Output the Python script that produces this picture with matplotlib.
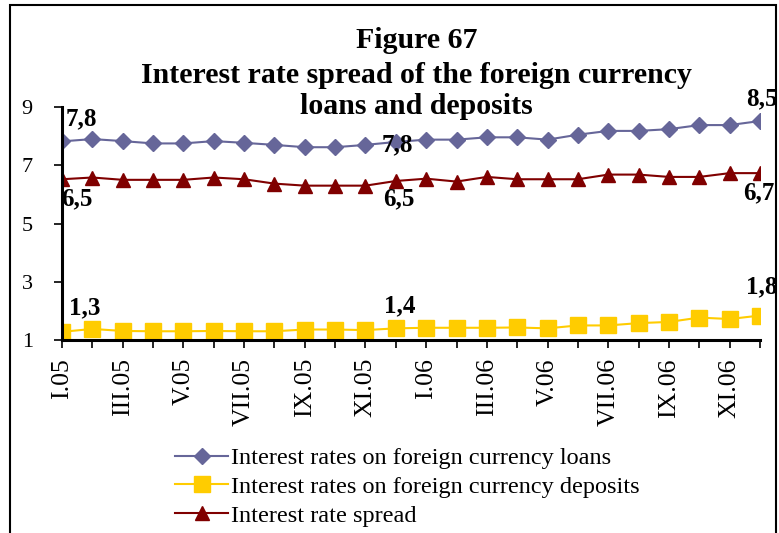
import matplotlib.pyplot as plt
from matplotlib.patches import Rectangle

plt.rcParams['font.family'] = ['Liberation Serif', 'DejaVu Serif']

# Monthly data, January 2005 - December 2006
months = ['I.05', 'II.05', 'III.05', 'IV.05', 'V.05', 'VI.05', 'VII.05', 'VIII.05',
          'IX.05', 'X.05', 'XI.05', 'XII.05', 'I.06', 'II.06', 'III.06', 'IV.06',
          'V.06', 'VI.06', 'VII.06', 'VIII.06', 'IX.06', 'X.06', 'XI.06', 'XII.06']
loans = [7.82, 7.90, 7.83, 7.75, 7.75, 7.83, 7.77, 7.70, 7.62, 7.62, 7.70, 7.80,
         7.88, 7.88, 7.96, 7.96, 7.88, 8.05, 8.18, 8.18, 8.24, 8.38, 8.38, 8.52]
deposits = [1.28, 1.38, 1.31, 1.30, 1.30, 1.31, 1.30, 1.30, 1.36, 1.36, 1.34, 1.40,
            1.42, 1.42, 1.42, 1.43, 1.40, 1.50, 1.50, 1.58, 1.62, 1.77, 1.72, 1.84]
spread = [6.52, 6.58, 6.50, 6.50, 6.50, 6.58, 6.52, 6.37, 6.30, 6.30, 6.30, 6.46,
          6.54, 6.44, 6.60, 6.52, 6.52, 6.52, 6.68, 6.68, 6.60, 6.60, 6.73, 6.73]
labelled = [0, 11, 23]

fig = plt.figure(figsize=(7.79, 5.33), dpi=100)
ax = fig.add_axes([0.0796, 0.3621, 0.896, 0.4371])

x = list(range(len(months)))
ax.plot(x, loans, color='#666699', marker='D', markersize=8.5, lw=1.5,
        label='Interest rates on foreign currency loans')
ax.plot(x, deposits, color='#FFCC00', marker='s', markersize=11, lw=1.5,
        label='Interest rates on foreign currency deposits')
ax.plot(x, spread, color='#800000', marker='^', markersize=10.5, lw=1.5,
        label='Interest rate spread')

ax.set_xlim(0, 23)
ax.set_ylim(1, 9)
ax.set_yticks([1, 3, 5, 7, 9])
ax.set_xticks(x)
ax.set_xticklabels([m if i % 2 == 0 else '' for i, m in enumerate(months)],
                   rotation=90, fontsize=18.5)
ax.tick_params(axis='y', labelsize=16, length=6, width=1.2, pad=15)
ax.tick_params(axis='x', length=6, width=1.2, pad=7)
for side in ['top', 'right']:
    ax.spines[side].set_visible(False)
for side in ['left', 'bottom']:
    ax.spines[side].set_linewidth(2.2)

# value labels on the first, December 2005 and last points
offsets = {
    'loans': [(14, 16), (1, -2), (1, 16)],
    'spread': [(11, -14), (2, -13), (-1, -14)],
    'deposits': [(16, 17), (3, 16), (1, 21)],
}
for name, vals in [('loans', loans), ('spread', spread), ('deposits', deposits)]:
    for k, i in enumerate(labelled):
        ax.annotate(f'{vals[i]:.1f}'.replace('.', ','), (i, vals[i]),
                    xytext=offsets[name][k], textcoords='offset points',
                    ha='center', va='center', fontsize=18, fontweight='bold')

fig.text(0.535, 0.924, 'Figure 67', ha='center', va='center',
         fontsize=21.5, fontweight='bold')
fig.text(0.535, 0.858, 'Interest rate spread of the foreign currency',
         ha='center', va='center', fontsize=21.5, fontweight='bold')
fig.text(0.535, 0.801, 'loans and deposits', ha='center', va='center',
         fontsize=21.5, fontweight='bold')

fig.legend(loc='upper left', bbox_to_anchor=(175 / 779, 1 - 447 / 533),
           bbox_transform=fig.transFigure, frameon=False, fontsize=17.5,
           handlelength=2.2, handletextpad=0.1, labelspacing=0.28,
           borderpad=0, borderaxespad=0)

# outer frame of the figure
fig.patches.append(Rectangle((10 / 779, -0.1), 766 / 779, 1.09,
                             transform=fig.transFigure, fill=False,
                             edgecolor='black', lw=1.5))

fig.savefig('out.png', dpi=100)
